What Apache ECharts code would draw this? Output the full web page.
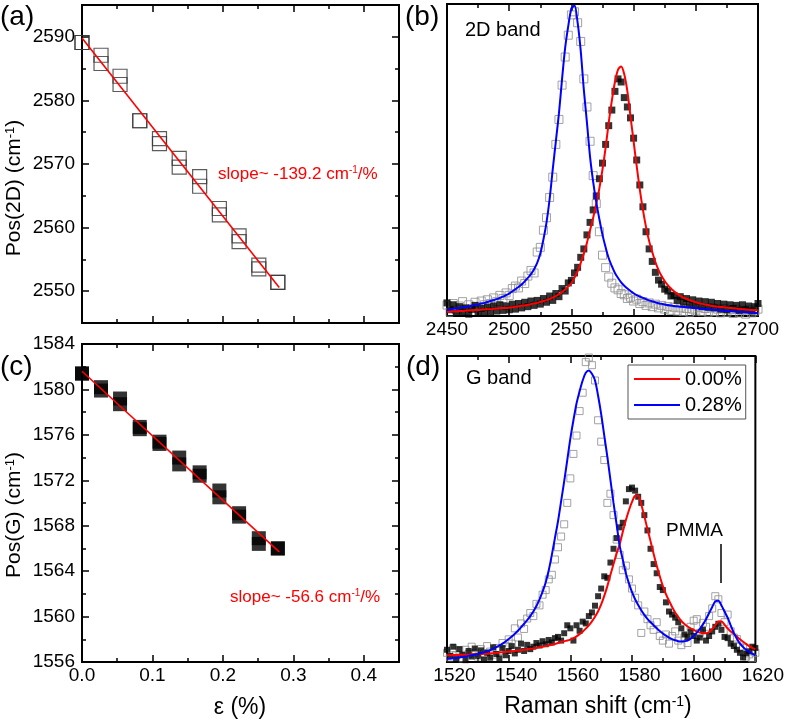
<!DOCTYPE html>
<html><head><meta charset="utf-8">
<script src="https://cdn.jsdelivr.net/npm/echarts@6/dist/echarts.min.js"></script>
<style>html,body{margin:0;padding:0;background:#fff}#c{width:787px;height:723px}</style>
</head><body><div id="c"></div>
<script>
// ---------------- data ----------------
const strain = [0, 0.027, 0.054, 0.082, 0.110, 0.138, 0.167, 0.195, 0.223, 0.251, 0.278];
const pos2DUpper = [2589.1, 2587.1, 2583.8, 2576.8, 2574.0, 2570.9, 2568.0, 2563.0, 2558.7, 2554.1, 2551.4];
const pos2DLower = [2589.1, 2585.8, 2582.5, 2576.8, 2573.2, 2569.5, 2566.5, 2562.0, 2557.8, 2553.5, 2551.4];
const posGUpper = [1581.4, 1580.2, 1579.2, 1576.7, 1575.4, 1574.0, 1572.7, 1571.1, 1569.1, 1566.9, 1566.0];
const posGLower = [1581.4, 1579.9, 1578.7, 1576.5, 1575.2, 1573.4, 1572.4, 1570.5, 1568.8, 1566.4, 1566.0];
const fit2DX = [0, 0.280];
const fit2DY = [2589.8, 2550.6];
const fitGX = [0, 0.280];
const fitGY = [1581.6, 1565.7];

const shift2D = [2450,2452.5,2455,2457.5,2460,2462.5,2465,2467.5,2470,2472.5,2475,2477.5,2480,2482.5,2485,2487.5,2490,2492.5,2495,2497.5,2500,2502.5,2505,2507.5,2510,2512.5,2515,2517.5,2520,2522.5,2525,2527.5,2530,2532.5,2535,2537.5,2540,2542.5,2545,2547.5,2550,2552.5,2555,2557.5,2560,2562.5,2565,2567.5,2570,2572.5,2575,2577.5,2580,2582.5,2585,2587.5,2590,2592.5,2595,2597.5,2600,2602.5,2605,2607.5,2610,2612.5,2615,2617.5,2620,2622.5,2625,2627.5,2630,2632.5,2635,2637.5,2640,2642.5,2645,2647.5,2650,2652.5,2655,2657.5,2660,2662.5,2665,2667.5,2670,2672.5,2675,2677.5,2680,2682.5,2685,2687.5,2690,2692.5,2695,2697.5,2700];
const fit2D_000 = [1.4,1.4,1.5,1.5,1.6,1.6,1.7,1.8,1.8,1.9,1.9,2.0,2.1,2.2,2.2,2.3,2.4,2.5,2.6,2.6,2.7,2.8,3.0,3.1,3.3,3.4,3.6,3.8,4.0,4.2,4.5,4.8,5.1,5.5,5.9,6.4,7.0,7.7,8.5,9.5,10.5,12.3,14.3,17,20,23.5,27.5,31.5,36,41,47,54,62,69,75,79,80,77.5,72,64,56,48,40.5,34,28.5,24,20.5,17.3,14.8,12.8,11.2,9.9,8.8,7.9,7.1,6.5,5.9,5.5,5.1,4.7,4.4,4.1,3.9,3.7,3.5,3.3,3.1,3.0,2.9,2.8,2.7,2.6,2.5,2.4,2.3,2.2,2.1,2.0,1.9,1.9,1.8];
const fit2D_028 = [2.0,2.1,2.3,2.4,2.6,2.8,2.9,3.1,3.3,3.5,3.7,4.0,4.2,4.5,4.8,5.1,5.4,5.8,6.2,6.7,7.2,7.9,8.6,9.3,10.1,11.1,12.2,13.4,15.0,17.0,20.0,24.5,30,37.5,47,56,65,76,86,93,98.5,99.5,94,85,72.5,62,51,43,36.5,31,26,22,18.5,16,13.8,12.2,10.8,9.7,8.8,8.0,7.3,6.7,6.2,5.8,5.4,5.0,4.7,4.4,4.1,3.9,3.7,3.5,3.4,3.2,3.1,3.0,2.9,2.8,2.7,2.6,2.5,2.4,2.3,2.2,2.1,2.1,2.0,1.9,1.8,1.7,1.6,1.6,1.5,1.4,1.3,1.3,1.2,1.1,1.1,1.0,0.9];
const data2D_000 = [4.2,2.0,3.6,0.8,3.0,1.2,2.6,0.6,2.2,3.4,1.0,2.4,0.8,2.8,1.4,3.2,1.6,3.6,1.8,3.2,2.0,3.8,2.2,4.0,2.6,4.4,3.0,4.8,3.4,5.0,3.8,5.6,4.4,6.4,5.0,7.2,6.2,8.8,8.0,10.6,11.4,13.8,15.6,18.8,21.5,26,30,34,38.5,44,49,55,61,66,72,76,75,70,67,63.5,57,50,42,35,27,21.5,17.5,14,11.5,10.2,8.6,8.0,6.4,6.6,5.0,6.2,4.4,5.6,3.8,5.2,3.4,4.8,3.0,4.6,2.8,4.4,2.6,4.0,2.2,3.8,2.0,3.6,2.4,3.4,1.8,3.6,2.0,3.2,1.6,3.0,4.0];
const data2D_028 = [3.5,1.2,4.0,2.0,3.2,4.6,1.8,3.6,2.4,4.4,3.0,4.8,3.6,5.2,4.0,5.8,4.6,6.6,5.6,7.4,6.6,8.8,9.6,9.0,11.2,10.4,12.8,14.6,13.8,20.5,22.0,27.5,31.5,38,44.5,55,63,74,83,90,96.5,97.5,94,88,76,67,56,45,36,27,19.5,15.5,12.5,10.5,9.0,8.4,7.2,6.8,5.6,6.0,4.8,5.4,4.0,4.6,3.4,4.2,3.0,3.8,2.6,3.4,2.2,3.0,1.8,2.8,1.6,2.6,1.4,2.4,1.2,2.2,1.6,2.8,1.4,2.4,1.2,2.6,1.4,2.2,1.0,2.4,1.2,2.0,0.8,2.2,1.0,1.8,0.6,2.0,1.0,1.6,2.2];

const shiftG = [1520,1521,1522,1523,1524,1525,1526,1527,1528,1529,1530,1531,1532,1533,1534,1535,1536,1537,1538,1539,1540,1541,1542,1543,1544,1545,1546,1547,1548,1549,1550,1551,1552,1553,1554,1555,1556,1557,1558,1559,1560,1561,1562,1563,1564,1565,1566,1567,1568,1569,1570,1571,1572,1573,1574,1575,1576,1577,1578,1579,1580,1581,1582,1583,1584,1585,1586,1587,1588,1589,1590,1591,1592,1593,1594,1595,1596,1597,1598,1599,1600,1601,1602,1603,1604,1605,1606,1607,1608,1609,1610,1611,1612,1613,1614,1615,1616,1617,1618,1619,1620];
const fitG_000 = [2.2,2.2,2.3,2.3,2.3,2.4,2.4,2.4,2.5,2.5,2.6,2.6,2.7,2.7,2.8,2.9,3.0,3.1,3.2,3.3,3.4,3.5,3.6,3.7,3.8,4.0,4.1,4.3,4.4,4.6,4.8,5.0,5.2,5.4,5.6,5.9,6.2,6.5,6.8,7.0,7.3,7.8,8.4,9.1,9.9,10.9,12.0,13.3,14.8,16.6,18.8,21.6,24.8,28.5,32.0,35.5,38.5,42.5,46.3,49.6,52.3,54.3,54.4,51.5,47.6,43.5,39.5,35.4,31.5,28.0,24.8,22.2,20.0,18.0,16.2,14.7,13.4,12.4,11.6,11.0,10.5,10.0,9.6,9.4,9.4,9.8,10.7,12.0,13.2,13.2,12.2,11.0,10.0,9.2,8.3,7.4,6.6,5.9,5.2,4.6,4.2];
const fitG_028 = [1.0,1.1,1.2,1.3,1.5,1.6,1.8,2.0,2.2,2.4,2.6,2.9,3.2,3.5,3.9,4.4,4.9,5.4,6.0,6.7,7.5,8.3,9.2,10.2,11.3,12.5,13.7,15.0,16.5,18.3,20.5,23.0,26.0,30.0,35.0,40.5,46.0,52.5,59.0,66.0,73.0,79.0,84.5,88.5,92.0,94.5,95.3,94.2,92.0,87.0,81.0,74.0,67.0,59.5,52.0,45.0,38.0,33.5,29.0,25.7,22.8,20.5,18.6,16.9,15.4,14.1,13.0,12.0,11.0,10.1,9.3,8.6,8.0,7.5,7.1,6.8,6.7,6.8,7.0,7.6,8.5,9.6,10.8,12.3,14.0,16.0,18.0,19.8,20.0,18.5,16.5,14.5,12.0,9.5,7.6,6.0,4.9,4.0,3.3,2.7,2.2];
const dataG_000 = [4.0,2.0,5.0,1.0,4.2,2.4,0.6,3.6,1.8,4.4,2.0,3.8,0.8,3.0,1.4,4.8,2.6,1.2,4.6,2.2,3.6,5.2,2.8,4.0,6.0,3.6,5.6,4.2,5.0,6.2,5.4,6.8,5.8,7.2,6.4,7.8,8.2,7.0,9.4,12.0,11.0,7.0,12.0,10.2,13.2,12.6,15.0,16.2,18.4,21.5,24.0,28.0,27.5,32.5,37.0,40.5,44.0,45.5,52.5,56.5,57.0,56.0,54.0,52.0,48.0,43.0,37.0,32.0,29.0,24.5,23.5,19.5,16.5,15.5,14.5,13.0,11.0,9.0,8.2,10.0,8.5,7.0,8.0,10.5,7.0,8.5,10.0,11.5,12.5,10.5,8.2,7.8,6.0,5.2,4.0,3.0,1.5,2.8,3.5,5.0,4.6];
const dataG_028 = [3.0,1.5,4.5,2.2,3.8,1.2,4.0,2.6,5.0,3.0,1.8,4.2,2.8,5.2,3.4,2.4,4.6,3.6,6.2,5.0,7.4,6.0,11.0,8.0,12.6,10.8,14.2,16.0,15.0,19.0,18.5,22.0,23.5,27.0,28.5,33.5,37.5,41.0,45.0,52.0,60.0,68.0,74.0,82.0,88.0,98.0,99.5,97.0,92.0,79.0,72.0,66.0,52.0,55.0,48.0,40.0,35.0,30.0,31.5,27.0,24.0,21.0,18.5,9.5,16.5,14.0,12.0,10.5,13.0,8.5,7.0,9.0,6.0,8.5,10.0,7.0,5.5,8.0,6.2,11.5,13.5,14.0,9.5,12.8,11.5,15.0,17.5,21.5,20.5,16.0,13.0,15.5,10.0,8.0,7.5,5.0,4.5,1.8,2.5,1.2,3.0];

// tick labels
const strainMajor = [0, 0.1, 0.2, 0.3, 0.4];
const strainMinor = [0.05, 0.15, 0.25, 0.35];
const pos2DMajor = [2550, 2560, 2570, 2580, 2590];
const pos2DMinor = [2555, 2565, 2575, 2585];
const posGMajor = [1556, 1560, 1564, 1568, 1572, 1576, 1580, 1584];
const posGMinor = [1558, 1562, 1566, 1570, 1574, 1578, 1582];
const shift2DMajor = [2450, 2500, 2550, 2600, 2650, 2700];
const shift2DMinor = [2475, 2525, 2575, 2625, 2675];
const shiftGMajor = [1520, 1540, 1560, 1580, 1600, 1620];
const shiftGMinor = [1530, 1550, 1570, 1590, 1610];

// ---------------- build ----------------
const FONT = '"Liberation Sans", Arial, Helvetica, sans-serif';
function check(name, a, b){ if (a.length !== b.length) throw new Error(name + ' length ' + a.length + ' vs ' + b.length); }
check('fit2D_000', shift2D, fit2D_000); check('fit2D_028', shift2D, fit2D_028);
check('data2D_000', shift2D, data2D_000); check('data2D_028', shift2D, data2D_028);
check('fitG_000', shiftG, fitG_000); check('fitG_028', shiftG, fitG_028);
check('dataG_000', shiftG, dataG_000); check('dataG_028', shiftG, dataG_028);
const pairs = (xs, ys) => xs.map((x, i) => [x, ys[i]]);

const grids = [
  {left: 82, top: 5, width: 317, height: 318},
  {left: 447, top: 4, width: 311, height: 312},
  {left: 82, top: 344, width: 317, height: 318},
  {left: 447, top: 356, width: 311, height: 306}
].map(g => Object.assign({show: true, borderColor: '#000', borderWidth: 2, backgroundColor: 'transparent', containLabel: false}, g));

const plain = v => String(v);
const xAxes = [], yAxes = [];
function tickAxis(list, grid, pos, min, max, values, len, label) {
  const ax = {
    type: 'value', gridIndex: grid, position: pos, min: min, max: max,
    axisLine: {show: false, onZero: false}, splitLine: {show: false},
    axisTick: {show: true, inside: true, length: len, lineStyle: {color: '#000', width: 1.5}, customValues: values},
    axisLabel: label ? Object.assign({show: true, customValues: values, color: '#000', fontFamily: FONT, fontSize: 19, formatter: plain}, label) : {show: false}
  };
  list.push(ax);
  return list.length - 1;
}
function boxAxes(grid, xmin, xmax, xMaj, xMin, xLabel, ymin, ymax, yMaj, yMin, yLabel) {
  const xi = tickAxis(xAxes, grid, 'bottom', xmin, xmax, xMaj, 7, xLabel);
  tickAxis(xAxes, grid, 'bottom', xmin, xmax, xMin, 4, null);
  tickAxis(xAxes, grid, 'top', xmin, xmax, xMaj, 7, null);
  tickAxis(xAxes, grid, 'top', xmin, xmax, xMin, 4, null);
  let yi;
  if (yMaj) {
    yi = tickAxis(yAxes, grid, 'left', ymin, ymax, yMaj, 7, yLabel);
    tickAxis(yAxes, grid, 'left', ymin, ymax, yMin, 4, null);
    tickAxis(yAxes, grid, 'right', ymin, ymax, yMaj, 7, null);
    tickAxis(yAxes, grid, 'right', ymin, ymax, yMin, 4, null);
  } else {
    yAxes.push({type: 'value', gridIndex: grid, min: ymin, max: ymax, show: false, axisLine: {onZero: false}});
    yi = yAxes.length - 1;
  }
  return [xi, yi];
}
const A = boxAxes(0, 0, 0.45, strainMajor, strainMinor, null, 2545, 2595, pos2DMajor, pos2DMinor, {margin: 7});
const B = boxAxes(1, 2450, 2700, shift2DMajor, shift2DMinor, {margin: 4}, 0, 100, null);
const C = boxAxes(2, 0, 0.45, strainMajor, strainMinor, {margin: 4, formatter: v => Number(v).toFixed(1)}, 1556, 1584, posGMajor, posGMinor, {margin: 7});
const D = boxAxes(3, 1520, 1620, shiftGMajor, shiftGMinor, {margin: 4, padding: [0, 0, 0, 15]}, 0, 100, null);

const RED = '#ff0000', BLUE = '#0000ff';
function on(ax) { return {xAxisIndex: ax[0], yAxisIndex: ax[1]}; }
const series = [];
// (a)
[pos2DUpper, pos2DLower].forEach((ys, k) => series.push(Object.assign({
  type: 'scatter', name: 'a' + k, data: pairs(strain, ys), symbol: 'rect', symbolSize: 14,
  itemStyle: {color: 'rgba(0,0,0,0)', borderColor: '#333', borderWidth: 1.2}
}, on(A))));
series.push(Object.assign({type: 'line', name: 'fitA', data: pairs(fit2DX, fit2DY), symbol: 'none', lineStyle: {color: RED, width: 1.6}}, on(A)));
// (c)
[posGUpper, posGLower].forEach((ys, k) => series.push(Object.assign({
  type: 'scatter', name: 'c' + k, data: pairs(strain, ys), symbol: 'rect', symbolSize: 14,
  itemStyle: {color: '#000'}
}, on(C))));
series.push(Object.assign({type: 'line', name: 'fitC', data: pairs(fitGX, fitGY), symbol: 'none', lineStyle: {color: RED, width: 1.6}}, on(C)));
// (b)
series.push(Object.assign({type: 'scatter', name: 'b028', data: pairs(shift2D, data2D_028), symbol: 'rect', symbolSize: 8,
  itemStyle: {color: 'rgba(0,0,0,0)', borderColor: '#8c8c8c', borderWidth: 1}}, on(B)));
series.push(Object.assign({type: 'scatter', name: 'b000', data: pairs(shift2D, data2D_000), symbol: 'rect', symbolSize: 7,
  itemStyle: {color: '#000'}}, on(B)));
series.push(Object.assign({type: 'line', name: '0.00%', data: pairs(shift2D, fit2D_000), symbol: 'none', smooth: 0.3, lineStyle: {color: RED, width: 2}, itemStyle: {color: RED}}, on(B)));
series.push(Object.assign({type: 'line', name: '0.28%', data: pairs(shift2D, fit2D_028), symbol: 'none', smooth: 0.3, lineStyle: {color: BLUE, width: 2}, itemStyle: {color: BLUE}}, on(B)));
// (d)
series.push(Object.assign({type: 'scatter', name: 'd028', data: pairs(shiftG, dataG_028), symbol: 'rect', symbolSize: 7,
  itemStyle: {color: 'rgba(0,0,0,0)', borderColor: '#8c8c8c', borderWidth: 1}}, on(D)));
series.push(Object.assign({type: 'scatter', name: 'd000', data: pairs(shiftG, dataG_000), symbol: 'rect', symbolSize: 6,
  itemStyle: {color: '#000'}}, on(D)));
series.push(Object.assign({type: 'line', name: '0.00%', data: pairs(shiftG, fitG_000), symbol: 'none', smooth: 0.3, lineStyle: {color: RED, width: 2}, itemStyle: {color: RED}}, on(D)));
series.push(Object.assign({type: 'line', name: '0.28%', data: pairs(shiftG, fitG_028), symbol: 'none', smooth: 0.3, lineStyle: {color: BLUE, width: 2}, itemStyle: {color: BLUE}}, on(D)));

function txt(x, y, text, size, opts) {
  return {type: 'text', x: x, y: y, silent: true, z: 100,
    style: Object.assign({text: text, fontSize: size, fontFamily: FONT, fill: '#000', align: 'left', verticalAlign: 'middle'}, opts || {})};
}
function supText(x, y, parts, size, color, extra) {
  const s = parts.map(p => p[1] ? '{s|' + p[0] + '}' : '{n|' + p[0] + '}').join('');
  return Object.assign({type: 'text', x: x, y: y, silent: true, z: 100,
    style: {text: s, align: extra.align || 'left', verticalAlign: 'middle',
      rich: {n: {fontSize: size, fontFamily: FONT, fill: color},
             s: {fontSize: Math.round(size * 0.6), fontFamily: FONT, fill: color, verticalAlign: 'top'}}}}, extra.el || {});
}

const graphic = [
  txt(0, 17, '(a)', 28), txt(405, 17, '(b)', 28), txt(0, 367, '(c)', 28), txt(406, 367, '(d)', 28),
  txt(465, 30, '2D band', 20), txt(466, 378, 'G band', 20), txt(666, 531, 'PMMA', 19),
  {type: 'line', silent: true, z: 100, shape: {x1: 721, y1: 544, x2: 721, y2: 583}, style: {stroke: '#000', lineWidth: 1.5}},
  supText(218, 174, [['slope~ -139.2 cm'], ['-1', 1], ['/%']], 17, RED, {}),
  supText(230, 597, [['slope~ -56.6 cm'], ['-1', 1], ['/%']], 17, RED, {}),
  supText(14, 188, [['Pos(2D) (cm'], ['-1', 1], [')']], 21, '#000', {align: 'center', el: {rotation: Math.PI / 2}}),
  supText(14, 515, [['Pos(G) (cm'], ['-1', 1], [')']], 21, '#000', {align: 'center', el: {rotation: Math.PI / 2}}),
  txt(240, 708, 'ε (%)', 23, {align: 'center'}),
  supText(598, 707, [['Raman shift (cm'], ['-1', 1], [')']], 23, '#000', {align: 'center'})
];

const chart = echarts.init(document.getElementById('c'), null, {renderer: 'canvas'});
chart.setOption({
  animation: false,
  backgroundColor: '#fff',
  textStyle: {fontFamily: FONT},
  grid: grids,
  xAxis: xAxes,
  yAxis: yAxes,
  legend: {
    data: [{name: '0.00%', icon: 'rect'}, {name: '0.28%', icon: 'rect'}], left: 628, top: 365, orient: 'vertical',
    backgroundColor: '#fff', borderColor: '#555', borderWidth: 1, borderRadius: 0,
    padding: [4, 4, 4, 6], itemGap: 6, itemWidth: 46, itemHeight: 2, selectedMode: false,
    textStyle: {fontSize: 20, fontFamily: FONT, color: '#000'}
  },
  series: series,
  graphic: graphic
});
</script>
</body></html>
